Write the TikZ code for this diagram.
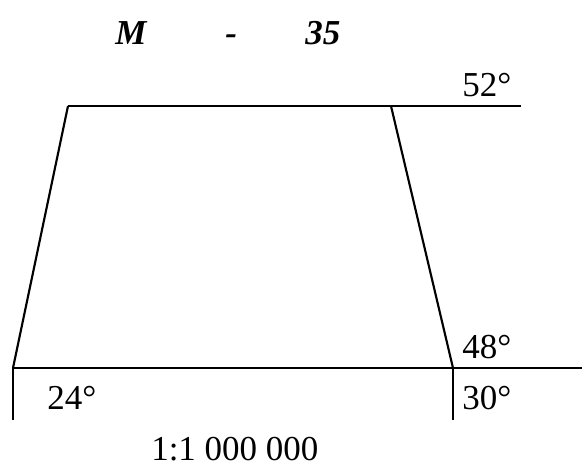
\documentclass[tikz,border=0pt]{standalone}
\usepackage{fontspec}
\setmainfont{Liberation Serif}
\begin{document}
\begin{tikzpicture}[x=0.75pt,y=-0.75pt,
  line/.style={line width=1.6pt},
  lbl/.style={inner sep=0pt,anchor=base west,font=\fontsize{26.25}{30}\selectfont},
  ttl/.style={inner sep=0pt,anchor=base west,font=\fontsize{26.25}{30}\selectfont\bfseries\itshape}]
\useasboundingbox (0,0) rectangle (582,462);
% corners
\coordinate (tl) at (68,106);
\coordinate (tr) at (391,106);
\coordinate (te) at (521,106);
\coordinate (bl) at (13,368);
\coordinate (br) at (453,368);
\coordinate (be) at (582,368);
\coordinate (blt) at (13,420);
\coordinate (brt) at (453,420);
% lines
\draw[line] (tl) -- (te);
\draw[line] (tl) -- (bl);
\draw[line] (tr) -- (br);
\draw[line] (bl) -- (be);
\draw[line] (bl) -- (blt);
\draw[line] (br) -- (brt);
% title
\node[ttl] (m) at (115,44) {M};
\node[ttl] (dash) at (225,44) {-};
\node[ttl] (n35) at (305,44) {35};
% labels
\node[lbl] (l52) at (462,96) {52°};
\node[lbl] (l48) at (462,358) {48°};
\node[lbl] (l24) at (47,409) {24°};
\node[lbl] (l30) at (462,409) {30°};
\node[lbl] (scale) at (151,460) {1:1 000 000};
\end{tikzpicture}
\end{document}
